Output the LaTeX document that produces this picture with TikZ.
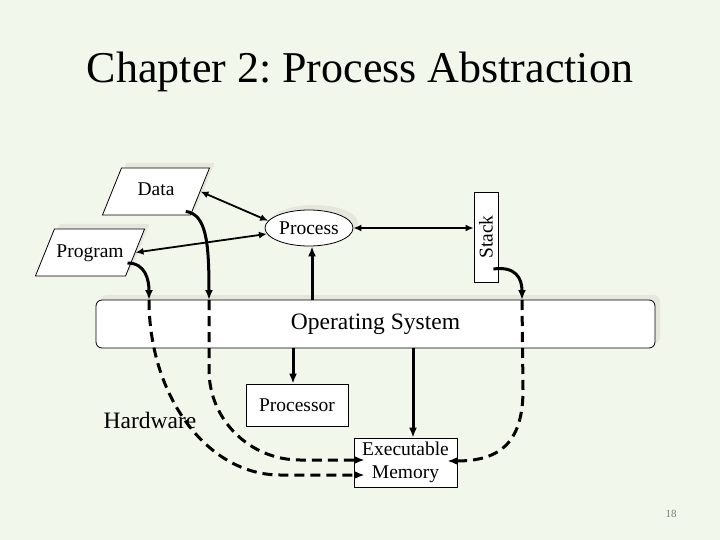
\documentclass[tikz,border=0pt]{standalone}
\usepackage{fontspec}
\setmainfont{Liberation Serif}
\usetikzlibrary{arrows.meta,shapes.geometric,shadows,calc}
\definecolor{bg}{HTML}{F2F7EC}
\definecolor{shade}{HTML}{E5E7DC}
\definecolor{ink}{HTML}{000000}
\definecolor{muted}{HTML}{7F7F7F}
\tikzset{
  txt/.style={font=\fontsize{19.5}{23}\selectfont, text=ink},
  bigtxt/.style={font=\fontsize{23.5}{26}\selectfont, text=ink},
  box/.style={txt, draw=ink, line width=0.8pt, fill=white, inner sep=1pt, align=center},
  panel/.style={box, drop shadow={shadow xshift=5pt, shadow yshift=5pt, fill=shade, opacity=1}},
  slanted/.style={panel, trapezium, trapezium left angle=68, trapezium right angle=112,
    trapezium stretches body, text height=13pt, text depth=4pt, inner ysep=15pt,
    inner xsep=2pt, minimum width=107pt},
  link/.style={{Latex[length=8pt,width=7pt]}-{Latex[length=8pt,width=7pt]}, line width=1.8pt, draw=ink},
  flow/.style={-{Latex[length=10pt,width=8pt]}, line width=3pt, draw=ink},
  dflow/.style={flow, dash pattern=on 10pt off 6pt}
}
\frenchspacing
\begin{document}
\begin{tikzpicture}[x=1pt,y=-1pt]
\fill[bg] (0,0) rectangle (720,540);
\useasboundingbox (0,0) rectangle (720,540);

% Title
\node[font=\fontsize{44}{50}\selectfont, anchor=base] (title) at (360,83) {Chapter 2: Process Abstraction};

% Process level
\node[slanted] (data) at (156,191.5) {Data};
\node[slanted] (program) at (90,252.5) {Program};
\node[panel, ellipse, minimum width=88pt, minimum height=36pt, inner sep=0pt] (process) at (309,228) {Process};
\node[box, minimum width=24pt, minimum height=90pt, inner sep=0pt] (stack) at (486,237) {\rotatebox{90}{Stack}};

\draw[link] (data.east) -- (process.170);
\draw[link] (program.east) -- (process.188);
\draw[link] (process.east) -- (process.east -| stack.west);

% Operating system
\node[panel, bigtxt, rounded corners=6pt, minimum width=559pt, minimum height=48pt] (os) at (375.5,324) {Operating System};

\coordinate (progdrop) at (149,300);
\coordinate (datadrop) at (209,300);
\coordinate (stackdrop) at (522,300);

\draw[flow] ($(program.east)+(-8,10.5)$) .. controls +(18,0) and +(0,-20) .. (progdrop);
\draw[flow] ($(data.bottom right corner)+(-5,-4)$) .. controls +(20,3) and +(0,-60) .. (datadrop);
\draw[flow] ($(stack.east)+(-5,32)$) .. controls +(22,-3) and +(0,-22) .. (stackdrop);
\draw[flow] ([xshift=3pt]process.south |- os.north) -- ([xshift=3pt]process.south);

% Hardware
\node[bigtxt] (hw) at (150,420) {Hardware};
\node[box, minimum width=102pt, minimum height=42pt] (cpu) at (297,405) {Processor};
\node[box, minimum width=103pt, minimum height=49pt] (mem) at (405.5,462.5) {Executable\\Memory};

\draw[flow] ([xshift=-4pt]cpu.north |- os.south) -- ([xshift=-4pt]cpu.north);
\draw[flow] ([xshift=7.5pt]mem.north |- os.south) -- ([xshift=7.5pt]mem.north);

\coordinate (memlow) at ($(mem.west)+(11,12.5)$);
\coordinate (memhigh) at ($(mem.west)+(11,-2.5)$);
\coordinate (memright) at ($(mem.east)+(-10,-1.5)$);

\draw[dflow] (progdrop) .. controls +(0,97) and +(-72,0) .. (280,475) -- (memlow);
\draw[dflow] (datadrop) -- (209,370) .. controls +(0,50) and +(-50,0) .. (300,460) -- (memhigh);
\draw[dflow] (stackdrop) -- (523,390) .. controls +(0,55) and +(50,0) .. (memright);

% Page number
\node[font=\fontsize{11}{13}\selectfont, text=muted] (page) at (671,514) {18};
\end{tikzpicture}
\end{document}
